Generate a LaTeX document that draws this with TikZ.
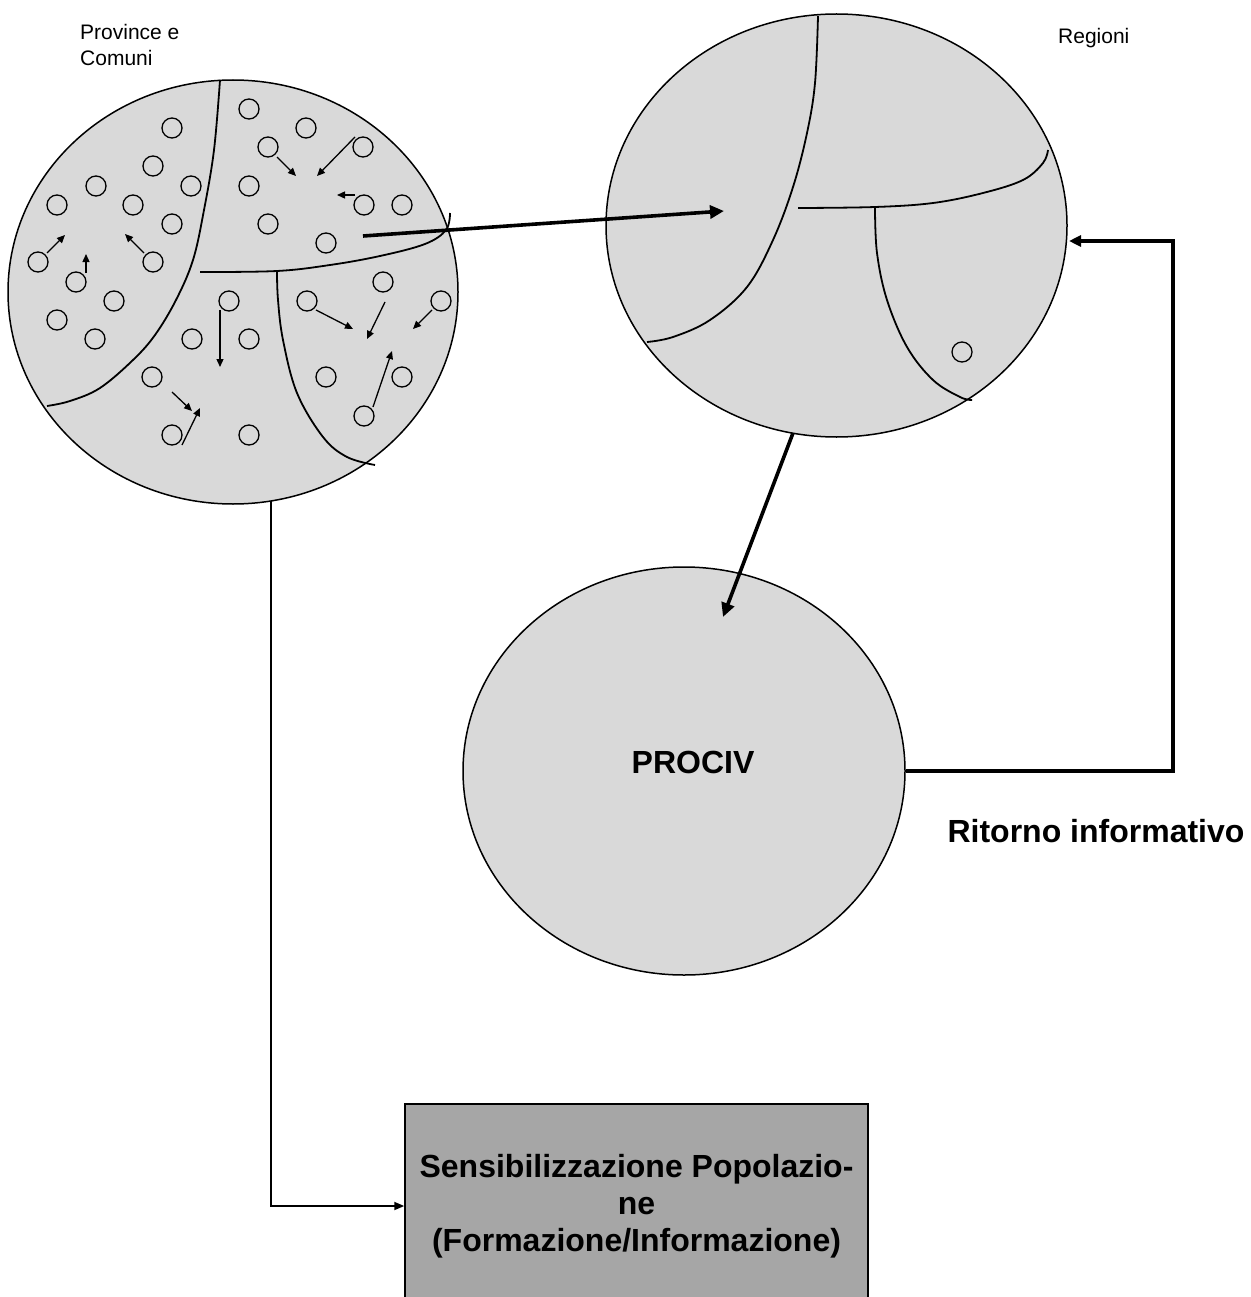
\documentclass[tikz,border=0pt]{standalone}
\usepackage{fontspec}
\setmainfont{Liberation Sans}
\usetikzlibrary{arrows.meta,shapes.geometric}
\definecolor{fillgray}{RGB}{217,217,217}
\definecolor{boxgray}{RGB}{166,166,166}
\begin{document}
\begin{tikzpicture}[x=1pt,y=-1pt,
  blob/.style={ellipse,draw,fill=fillgray,line width=1.5pt,inner sep=0pt},
  dot/.style={circle,draw,line width=1.3pt,minimum size=20pt,inner sep=0pt},
  part/.style={line width=1.8pt},
  sarr/.style={line width=1.3pt,-{Triangle[length=8pt,width=7pt]}},
  bigarr/.style={line width=3.6pt,-{Triangle[length=14pt,width=13pt]}},
  looparr/.style={line width=3.2pt,-{Triangle[length=12pt,width=11pt]}},
  thinarr/.style={line width=1.8pt,-{Triangle[length=10pt,width=8pt]}},
  small/.style={font=\fontsize{21}{26}\selectfont},
  big/.style={font=\fontsize{32}{37}\selectfont\bfseries}
]
\useasboundingbox (0,0) rectangle (1250,1297);
\fill[white] (0,0) rectangle (1250,1297);

% big shapes
\node[blob,minimum width=450pt,minimum height=424pt] (L) at (233,292) {};
\node[blob,minimum width=461pt,minimum height=423pt] (R) at (836.5,225.5) {};
\node[blob,minimum width=442pt,minimum height=408pt] (P) at (684,771) {};
\node[draw,fill=boxgray,line width=1.5pt,minimum width=463pt,minimum height=204pt,
      inner sep=0pt,align=center,big] (S) at (636.5,1206)
      {Sensibilizzazione Popolazio-\\ne\\(Formazione/Informazione)};

% partitions in left circle
\draw[part] plot[smooth,tension=0.6] coordinates {(220,80) (214,150) (204,210) (193,260) (176,300) (155,335) (133,360) (100,388) (70,401) (47,406)};
\draw[part] plot[smooth,tension=0.6] coordinates {(200,272) (277,271) (330,265) (380,256) (425,244) (446,230) (450,213)};
\draw[part] plot[smooth,tension=0.6] coordinates {(277,272) (278,300) (283,340) (297,393) (323,437) (347,457) (375,465)};

% partitions in right circle
\draw[part] plot[smooth,tension=0.6] coordinates {(818,16) (815,83) (807,133) (793,187) (773,240) (747,287) (710,320) (673,337) (647,342)};
\draw[part] plot[smooth,tension=0.6] coordinates {(798,208) (875,207) (933,203) (983,193) (1023,180) (1043,163) (1048,150)};
\draw[part] plot[smooth,tension=0.6] coordinates {(875,208) (877,253) (887,300) (907,347) (933,380) (960,397) (972,400)};
\node[dot] (rd) at (962,352) {};

% small circles
\foreach \x/\y [count=\i] in {172/128,153/166,191/186,96/186,57/205,133/205,172/224,38/262,153/262,76/282,114/301,57/320,95/339,
  249/109,306/128,268/147,363/147,249/186,364/205,402/205,268/224,326/243,
  229/301,192/339,249/339,152/377,172/435,249/435,
  307/301,383/282,441/301,326/377,402/377,364/416}
  \node[dot] (d\i) at (\x,\y) {};

% small arrows
\foreach \a/\b/\c/\d in {47/253/65/235, 86/273/86/254, 144/253/125/234,
  277/157/296/176, 355/137/317/176, 355/195/337/195,
  172/392/192/411, 182/445/200/408, 220/310/220/367,
  316/310/353/329, 385/302/367/339, 432/310/413/329, 373/407/392/351}
  \draw[sarr] (\a,\b) -- (\c,\d);

% connectors
\coordinate (ls) at (363,236);
\coordinate (rt) at (724,211);
\draw[bigarr] (ls) -- (rt);

\coordinate (rb) at (793,433);
\coordinate (pt) at (723,617);
\draw[bigarr] (rb) -- (pt);

\coordinate (lc) at (1173,771);
\coordinate (rin) at (1069,241);
\draw[looparr] (P.east) -- (lc) |- (rin);

\coordinate (lb) at (271,501);
\draw[thinarr] (lb) |- (S.west);

% labels
\node[small,align=left,anchor=north west,inner sep=0pt] (t1) at (80,24) {Province e\\Comuni};
\node[small,anchor=west,inner sep=0pt] (t2) at (1058,38) {Regioni};
\node[big,inner sep=0pt] (t3) at (693,762) {PROCIV};
\node[big,inner sep=0pt] (t4) at (1096,831) {Ritorno informativo};
\end{tikzpicture}
\end{document}
